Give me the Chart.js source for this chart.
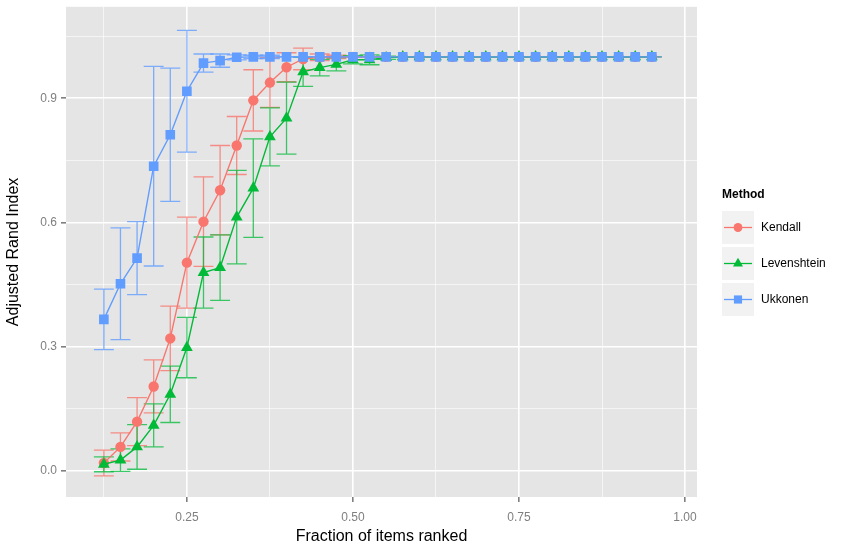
<!DOCTYPE html>
<html>
<head>
<meta charset="utf-8">
<script src="https://cdn.jsdelivr.net/npm/chart.js@4"></script>
<style>
  html, body { margin: 0; padding: 0; background: #fff; }
  #wrap { width: 843px; height: 547px; }
</style>
</head>
<body>
<div id="wrap"><canvas id="grafico" width="843" height="547"></canvas></div>
<script>
const fracoes = [0.125, 0.15, 0.175, 0.2, 0.225, 0.25, 0.275, 0.3, 0.325, 0.35, 0.375, 0.4,
  0.425, 0.45, 0.475, 0.5, 0.525, 0.55, 0.575, 0.6, 0.625, 0.65, 0.675, 0.7, 0.725, 0.75,
  0.775, 0.8, 0.825, 0.85, 0.875, 0.9, 0.925, 0.95];

const kendall = [0.019, 0.058, 0.119, 0.204, 0.320, 0.503, 0.602, 0.678, 0.786, 0.895, 0.938, 0.975,
  0.995, 0.999, 1, 1, 1, 1, 1, 1, 1, 1, 1, 1, 1, 1, 1, 1, 1, 1, 1, 1, 1, 1];
const kendallErr = [0.031, 0.034, 0.058, 0.064, 0.078, 0.11, 0.108, 0.108, 0.07, 0.074, 0.06, 0.035,
  0.026, 0.008, 0.004, 0, 0, 0, 0, 0, 0, 0, 0, 0, 0, 0, 0, 0, 0, 0, 0, 0, 0, 0];

const levenshtein = [0.016, 0.026, 0.058, 0.11, 0.185, 0.298, 0.479, 0.491, 0.613, 0.683, 0.807, 0.852,
  0.964, 0.974, 0.982, 0.993, 0.993, 0.998, 1, 1, 1, 1, 1, 1, 1, 1, 1, 1, 1, 1, 1, 1, 1, 1];
const levenshteinErr = [0.018, 0.027, 0.054, 0.052, 0.068, 0.073, 0.086, 0.079, 0.113, 0.119, 0.07, 0.087,
  0.035, 0.02, 0.016, 0.01, 0.012, 0.004, 0, 0, 0, 0, 0, 0, 0, 0, 0, 0, 0, 0, 0, 0, 0, 0];

const ukkonen = [0.366, 0.452, 0.514, 0.736, 0.812, 0.917, 0.985, 0.991, 0.999, 1, 1, 1,
  1, 1, 1, 1, 1, 1, 1, 1, 1, 1, 1, 1, 1, 1, 1, 1, 1, 1, 1, 1, 1, 1];
const ukkonenErr = [0.073, 0.135, 0.088, 0.241, 0.161, 0.147, 0.022, 0.016, 0.006, 0.004, 0.004, 0,
  0, 0, 0, 0, 0, 0, 0, 0, 0, 0, 0, 0, 0, 0, 0, 0, 0, 0, 0, 0, 0, 0];

const xTicks = [0.125, 0.25, 0.375, 0.5, 0.625, 0.75, 0.875, 1.0];
const xMajor = [0.25, 0.5, 0.75, 1.0];
const yTicks = [0, 0.15, 0.3, 0.45, 0.6, 0.75, 0.9, 1.05];
const yMajor = [0, 0.3, 0.6, 0.9];

const metodos = ['Kendall', 'Levenshtein', 'Ukkonen'];
const cores = ['#F8766D', '#00BA38', '#619CFF'];
const coresErro = ['rgba(248,118,109,0.8)', 'rgba(0,186,56,0.75)', 'rgba(97,156,255,0.8)'];
const formas = ['circle', 'triangle', 'rect'];
const raios = [5.2, 6.8, 6.8];
const series = [kendall, levenshtein, ukkonen];
const erros = [kendallErr, levenshteinErr, ukkonenErr];

const fonte = '"Liberation Sans", Arial, Helvetica, sans-serif';
const ehMaior = (lista, v) => lista.some(m => Math.abs(m - v) < 1e-9);

const fundoPainel = {
  id: 'fundoPainel',
  beforeDraw(chart) {
    const { ctx, chartArea: a } = chart;
    ctx.save();
    ctx.fillStyle = '#E5E5E5';
    ctx.fillRect(a.left, a.top, a.right - a.left, a.bottom - a.top);
    ctx.restore();
  }
};

const barrasErro = {
  id: 'barrasErro',
  beforeDatasetsDraw(chart) {
    const { ctx, scales: { x, y } } = chart;
    ctx.save();
    ctx.lineWidth = 1.3;
    series.forEach((s, k) => {
      ctx.strokeStyle = coresErro[k];
      s.forEach((v, i) => {
        const e = erros[k][i];
        const px = x.getPixelForValue(fracoes[i]);
        const x0 = x.getPixelForValue(fracoes[i] - 0.015);
        const x1 = x.getPixelForValue(fracoes[i] + 0.015);
        const yHi = y.getPixelForValue(v + e);
        const yLo = y.getPixelForValue(v - e);
        ctx.beginPath();
        ctx.moveTo(px, yHi); ctx.lineTo(px, yLo);
        ctx.moveTo(x0, yHi); ctx.lineTo(x1, yHi);
        ctx.moveTo(x0, yLo); ctx.lineTo(x1, yLo);
        ctx.stroke();
      });
    });
    ctx.restore();
  }
};

const legendaGG = {
  id: 'legendaGG',
  afterDraw(chart) {
    const ctx = chart.ctx;
    ctx.save();
    ctx.fillStyle = '#000';
    ctx.font = 'bold 12px ' + fonte;
    ctx.textBaseline = 'middle';
    ctx.fillText('Method', 722, 195);
    metodos.forEach((m, k) => {
      const top = 211 + k * 36;
      ctx.fillStyle = '#F2F2F2';
      ctx.fillRect(722, top, 32, 33);
      const cy = top + 16.5;
      ctx.strokeStyle = cores[k];
      ctx.lineWidth = 1.3;
      ctx.beginPath();
      ctx.moveTo(724, cy); ctx.lineTo(752, cy);
      ctx.stroke();
      ctx.fillStyle = cores[k];
      Chart.helpers.drawPoint(ctx, { pointStyle: formas[k], radius: raios[k] * 0.85, rotation: 0, borderWidth: 0 }, 738, cy);
      ctx.fillStyle = '#000';
      ctx.font = '12px ' + fonte;
      ctx.fillText(m, 761, cy);
    });
    ctx.restore();
  }
};

const ctx = document.getElementById('grafico').getContext('2d');
new Chart(ctx, {
  type: 'line',
  data: {
    datasets: metodos.map((m, k) => ({
      label: m,
      data: fracoes.map((f, i) => ({ x: f, y: series[k][i] })),
      order: 2 - k,
      borderColor: cores[k],
      backgroundColor: cores[k],
      borderWidth: 1.4,
      pointStyle: formas[k],
      pointRadius: raios[k],
      pointBorderWidth: 0,
      pointHoverRadius: raios[k],
      tension: 0
    }))
  },
  options: {
    responsive: false,
    animation: false,
    events: [],
    layout: { padding: { top: 5, right: 146, left: 0, bottom: 0 } },
    plugins: {
      legend: { display: false },
      tooltip: { enabled: false }
    },
    scales: {
      x: {
        type: 'linear',
        min: 0.068,
        max: 1.018,
        afterBuildTicks: s => { s.ticks = xTicks.map(v => ({ value: v })); },
        afterFit: s => { s.height = 50; s.paddingLeft = 0; s.paddingRight = 0; },
        border: { display: false },
        grid: {
          color: '#FFFFFF',
          lineWidth: c => ehMaior(xMajor, c.tick.value) ? 1.6 : 0.6,
          tickColor: c => ehMaior(xMajor, c.tick.value) ? '#7F7F7F' : 'rgba(0,0,0,0)',
          tickLength: 5
        },
        ticks: {
          color: '#7F7F7F',
          font: { family: fonte, size: 12 },
          padding: 8,
          maxRotation: 0,
          autoSkip: false,
          callback: v => ehMaior(xMajor, v) ? v.toFixed(2) : ''
        },
        title: {
          display: true,
          text: 'Fraction of items ranked',
          color: '#000',
          font: { family: fonte, size: 16 },
          padding: { top: 0, bottom: 1 }
        }
      },
      y: {
        min: -0.063,
        max: 1.121,
        afterBuildTicks: s => { s.ticks = yTicks.map(v => ({ value: v })); },
        afterFit: s => { s.width = 66; s.paddingTop = 0; s.paddingBottom = 0; },
        border: { display: false },
        grid: {
          color: '#FFFFFF',
          lineWidth: c => ehMaior(yMajor, c.tick.value) ? 1.6 : 0.6,
          tickColor: c => ehMaior(yMajor, c.tick.value) ? '#7F7F7F' : 'rgba(0,0,0,0)',
          tickLength: 5
        },
        ticks: {
          color: '#7F7F7F',
          font: { family: fonte, size: 12 },
          padding: 4,
          autoSkip: false,
          callback: v => ehMaior(yMajor, v) ? v.toFixed(1) : ''
        },
        title: {
          display: true,
          text: 'Adjusted Rand Index',
          color: '#000',
          font: { family: fonte, size: 16 },
          padding: { top: 4, bottom: 4 }
        }
      }
    }
  },
  plugins: [fundoPainel, barrasErro, legendaGG]
});
</script>
</body>
</html>
